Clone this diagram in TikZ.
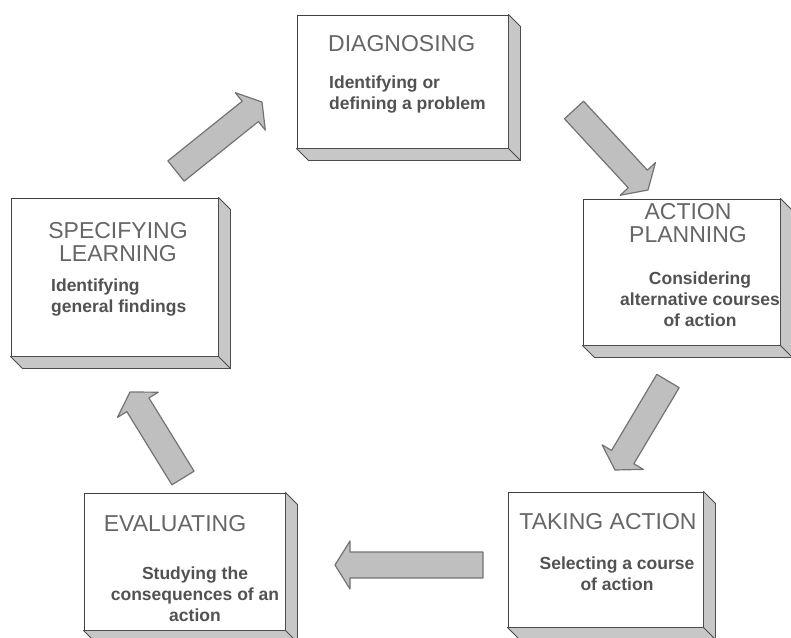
\documentclass[tikz,border=0pt]{standalone}
\usepackage{fontspec}
\setmainfont{Liberation Sans}
\usetikzlibrary{calc}

% freccia larga dalla coda #1 alla punta #2
\newcommand{\frecciona}[2]{%
  \draw[freccia] let \p1=($(#2)-(#1)$), \n1={atan2(\y1,\x1)}, \n2={veclen(\x1,\y1)} in
    [shift={(#1)}, rotate=\n1]
    (0pt,-13pt) -- (\n2-15pt,-13pt) -- (\n2-15pt,-24pt) -- (\n2,0pt)
    -- (\n2-15pt,24pt) -- (\n2-15pt,13pt) -- (0pt,13pt) -- cycle;}

\begin{document}
\begin{tikzpicture}[line cap=round, line join=round, x=1pt, y=-1pt,
  riquadro/.style={draw=black!75, fill=white, line width=1pt},
  spessore/.style={draw=black!70, fill=black!22, line width=0.8pt},
  freccia/.style={draw=black!55, fill=black!25, line width=1.2pt},
  titolo/.style={inner sep=0pt, text=black!60, font=\fontsize{23}{23}\selectfont},
  descr/.style={inner sep=0pt, text=black!68, font=\fontsize{17.5}{21}\selectfont\bfseries}]

\useasboundingbox (0,0) rectangle (791,637);

% Riquadri
\node[riquadro, minimum width=211pt, minimum height=133pt] (diag) at (402.5,81.5) {};
\node[riquadro, minimum width=197pt, minimum height=146pt] (plan) at (681.5,272) {};
\node[riquadro, minimum width=195pt, minimum height=135pt] (act) at (605.5,559.5) {};
\node[riquadro, minimum width=201pt, minimum height=137pt] (eval) at (184.5,561.5) {};
\node[riquadro, minimum width=207pt, minimum height=158pt] (spec) at (114.5,277) {};

% Spessore dei riquadri
\foreach \n in {diag,plan,act,eval,spec} {
  \draw[spessore] (\n.north east) -- ([shift={(12,12)}]\n.north east)
    -- ([shift={(12,12)}]\n.south east) -- ([shift={(12,12)}]\n.south west)
    -- (\n.south west) -- (\n.south east) -- cycle;
  \draw[spessore] (\n.south east) -- ([shift={(12,12)}]\n.south east);
}

% Testi
\node[titolo, anchor=north west] (diagT) at (328,35) {DIAGNOSING};
\node[descr, anchor=north west, align=left] (diagD) at (329,76) {Identifying or\\defining a problem};

\node[titolo, anchor=north, align=center] (planT) at (688,203) {ACTION\\PLANNING};
\node[descr, anchor=north, align=center] (planD) at (700,272) {Considering\\alternative courses\\of action};

\node[titolo, anchor=north] (actT) at (608,513) {TAKING ACTION};
\node[descr, anchor=north, align=center] (actD) at (617,557) {Selecting a course\\of action};

\node[titolo, anchor=north] (evalT) at (175,515) {EVALUATING};
\node[descr, anchor=north, align=center] (evalD) at (195,567) {Studying the\\consequences of an\\action};

\node[titolo, anchor=north, align=center] (specT) at (118,222) {SPECIFYING\\LEARNING};
\node[descr, anchor=north west, align=left] (specD) at (51,279) {Identifying\\general findings};

% Frecce
\coordinate (c1) at (176,171); \coordinate (p1) at (262,102);
\coordinate (c2) at (574,110); \coordinate (p2) at (648,190);
\coordinate (c3) at (668,381); \coordinate (p3) at (615,470);
\coordinate (c4) at (483,565); \coordinate (p4) at (335,565);
\coordinate (c5) at (183,478); \coordinate (p5) at (130,392);
\foreach \i in {1,...,5} \frecciona{c\i}{p\i};

\end{tikzpicture}
\end{document}
